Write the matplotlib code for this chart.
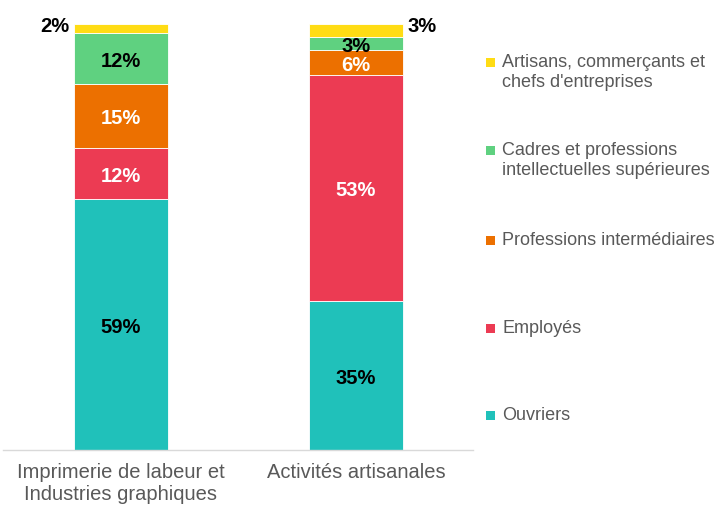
import matplotlib
matplotlib.use("Agg")
import matplotlib.pyplot as plt
from matplotlib.patches import Rectangle

plt.rcParams['font.family'] = ['Liberation Sans', 'DejaVu Sans']

categories = ["Imprimerie de labeur et\nIndustries graphiques", "Activités artisanales"]
series = ["Ouvriers", "Employés", "Professions intermédiaires",
          "Cadres et professions\nintellectuelles supérieures",
          "Artisans, commerçants et\nchefs d'entreprises"]
values = {
    "Ouvriers": [59, 35],
    "Employés": [12, 53],
    "Professions intermédiaires": [15, 6],
    "Cadres et professions\nintellectuelles supérieures": [12, 3],
    "Artisans, commerçants et\nchefs d'entreprises": [2, 3],
}
colors = ["#20C1BA", "#EC3B53", "#EC7000", "#5FD180", "#FFDC14"]
label_colors = ["black", "white", "white", "black", None]

W, H = 722, 507
fig = plt.figure(figsize=(W / 100, H / 100), dpi=100)
ax = fig.add_axes([3 / W, 1 - 450 / H, 470 / W, (450 - 24) / H])

x = list(range(len(categories)))
bottoms = [0] * len(categories)
for s, c, lc in zip(series, colors, label_colors):
    vals = values[s]
    ax.bar(x, vals, width=0.396, bottom=bottoms, color=c, edgecolor='white', linewidth=0.6)
    for i, v in enumerate(vals):
        if lc is not None:
            ax.text(i, bottoms[i] + v / 2 - 0.7, f"{v}%", ha='center', va='center',
                    fontsize=14.5, fontweight='bold', color=lc)
        else:
            if i == 0:
                ax.text(i - 0.22, bottoms[i] + v / 2 + 0.3, f"{v}%", ha='right', va='center',
                        fontsize=14.5, fontweight='bold', color='black')
            else:
                ax.text(i + 0.22, bottoms[i] + v / 2 + 0.8, f"{v}%", ha='left', va='center',
                        fontsize=14.5, fontweight='bold', color='black')
    bottoms = [b + v for b, v in zip(bottoms, vals)]

ax.set_xlim(-0.502, 1.498)
ax.set_ylim(0, 100)
ax.set_xticks(x)
ax.set_xticklabels(categories, fontsize=14.5, color='#595959', linespacing=1.2)
ax.tick_params(axis='x', length=0, pad=9)
ax.set_yticks([])
for sp in ['top', 'right', 'left']:
    ax.spines[sp].set_visible(False)
ax.spines['bottom'].set_color('#D9D9D9')
ax.spines['bottom'].set_linewidth(1)

# Legend (manual, top to bottom)
leg_y = [62, 150, 240, 328, 415]
for s, c, y in zip(series[::-1], colors[::-1], leg_y):
    fig.add_artist(Rectangle(((490 - 4.5) / W, 1 - (y + 4.5) / H), 9 / W, 9 / H,
                             transform=fig.transFigure, color=c, lw=0))
    fig.text(502 / W, 1 - (y - 8) / H, s, ha='left', va='top', fontsize=13,
             color='#595959', linespacing=1.25)

fig.savefig("out.png", dpi=100)
